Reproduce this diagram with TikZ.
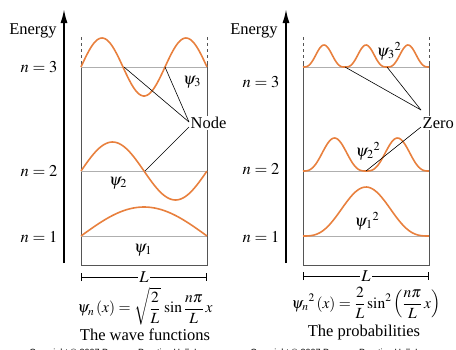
\documentclass[tikz,border=0pt]{standalone}
\usepackage{mathptmx}
\usepackage[no-math]{fontspec}
\setmainfont{Liberation Serif}
\newfontfamily\copyfont{Liberation Sans}
\usepackage{tikz}
\usetikzlibrary{arrows.meta, positioning}

\definecolor{waveorange}{RGB}{232,128,62}
\definecolor{levelgray}{RGB}{175,175,175}
\definecolor{wallgray}{RGB}{85,85,85}

\begin{document}
\begin{tikzpicture}[
  x=1pt, y=-1pt,
  wave/.style={waveorange, line width=1.6pt},
  level/.style={levelgray, line width=0.9pt},
  wall/.style={wallgray, line width=0.9pt},
  axis/.style={-{Latex[length=14pt, width=7pt]}, line width=1.8pt},
  pointer/.style={line width=0.6pt},
  dim/.style={{Bar[width=8pt]}-{Bar[width=8pt]}, line width=0.8pt},
  lbl/.style={font=\fontsize{16.5}{19}\selectfont, inner sep=1pt},
  eqn/.style={font=\fontsize{15.5}{18}\selectfont, inner sep=1pt},
  tag/.style={font=\fontsize{16.5}{19}\selectfont, fill=white, inner sep=1.5pt}
]
\useasboundingbox (0,0) rectangle (456,349);

% left panel: wave functions
\coordinate (axisLbot) at (64,263);
\coordinate (axisLtop) at (64,9);
\draw[axis] (axisLbot) -- (axisLtop);
\node[lbl] (energyL) at (33,31) {Energy};
\node[lbl] (nL3) at (39,67)  {$n=3$};
\node[lbl] (nL2) at (39,171) {$n=2$};
\node[lbl] (nL1) at (39,237) {$n=1$};

\draw[wall, dashed] (81,37) -- (81,64);
\draw[wall, dashed] (207,37) -- (207,64);
\draw[wall] (81,64) -- (81,265) -- (207,265) -- (207,64);
\draw[level] (81,67) -- (207,67);
\draw[level] (81,171) -- (207,171);
\draw[level] (81,236) -- (207,236);

\draw[wave] plot[domain=0:1, samples=90] ({81+126*\x}, {67-29*sin(540*\x)});
\draw[wave] plot[domain=0:1, samples=70] ({81+126*\x}, {171-29*sin(360*\x)});
\draw[wave] plot[domain=0:1, samples=50] ({81+126*\x}, {236-29*sin(180*\x)});

\node[lbl] (psiL3) at (192,82)  {$\psi_3$};
\node[lbl] (psiL2) at (118,183) {$\psi_2$};
\node[lbl] (psiL1) at (143,250) {$\psi_1$};

\node[tag, anchor=west] (nodeLbl) at (189,123) {Node};
\coordinate (node3a) at (124,67);
\coordinate (node3b) at (165,67);
\coordinate (node2a) at (145,171);
\draw[pointer] ([yshift=1pt]nodeLbl.west) -- (node3a);
\draw[pointer] ([yshift=1pt]nodeLbl.west) -- (node3b);
\draw[pointer] ([yshift=-4pt]nodeLbl.west) -- (node2a);

\coordinate (dimL1) at (81,277);
\coordinate (dimL2) at (207,277);
\draw[dim] (dimL1) -- node[tag] (lenL) {$L$} (dimL2);

\node[eqn] (formulaL) at (145,306)
  {$\displaystyle \psi_n\,(x) = \sqrt{\frac{2}{L}}\,\sin\frac{n\pi}{L}\,x$};
\node[lbl] (titleL) at (145,335) {The wave functions};
\node[font=\copyfont\fontsize{9}{10}\selectfont] (copyL) at (119,353)
  {Copyright \textcopyright{} 2007 Pearson Prentice Hall, Inc.};

% right panel: probabilities
\coordinate (axisRbot) at (286,263);
\coordinate (axisRtop) at (286,9);
\draw[axis] (axisRbot) -- (axisRtop);
\node[lbl] (energyR) at (254,31) {Energy};
\node[lbl] (nR3) at (261,82)  {$n=3$};
\node[lbl] (nR2) at (261,169) {$n=2$};
\node[lbl] (nR1) at (261,237) {$n=1$};

\draw[wall, dashed] (303,37) -- (303,64);
\draw[wall, dashed] (429,37) -- (429,64);
\draw[wall] (303,64) -- (303,265) -- (429,265) -- (429,64);
\draw[level] (303,67) -- (429,67);
\draw[level] (303,171) -- (429,171);
\draw[level] (303,236) -- (429,236);

\draw[wave] plot[domain=0:1, samples=120] ({303+126*\x}, {67-22*pow(abs(sin(540*\x)),3)});
\draw[wave] plot[domain=0:1, samples=100] ({303+126*\x}, {171-33*pow(abs(sin(360*\x)),3)});
\draw[wave] plot[domain=0:1, samples=70] ({303+126*\x}, {236-49*pow(abs(sin(180*\x)),3)});

\node[lbl] (psiR3) at (389,51)  {$\psi_3{}^2$};
\node[lbl] (psiR2) at (368,151) {$\psi_2{}^2$};
\node[lbl] (psiR1) at (367,221) {$\psi_1{}^2$};

\node[tag, anchor=west] (zeroLbl) at (421,123) {Zero};
\coordinate (zero3a) at (345,67);
\coordinate (zero3b) at (387,67);
\coordinate (zero2a) at (366,171);
\draw[pointer] ([yshift=13pt]zeroLbl.west) -- (zero3a);
\draw[pointer] ([yshift=13pt]zeroLbl.west) -- (zero3b);
\draw[pointer] ([yshift=-4pt]zeroLbl.west) -- (zero2a);

\coordinate (dimR1) at (303,276);
\coordinate (dimR2) at (429,276);
\draw[dim] (dimR1) -- node[tag] (lenR) {$L$} (dimR2);

\node[eqn] (formulaR) at (366,303)
  {$\displaystyle \psi_n{}^2\,(x) = \frac{2}{L}\sin^2\left(\frac{n\pi}{L}\,x\right)$};
\node[lbl] (titleR) at (364,333) {The probabilities};
\node[font=\copyfont\fontsize{9}{10}\selectfont] (copyR) at (340,353)
  {Copyright \textcopyright{} 2007 Pearson Prentice Hall, Inc.};
\end{tikzpicture}
\end{document}
